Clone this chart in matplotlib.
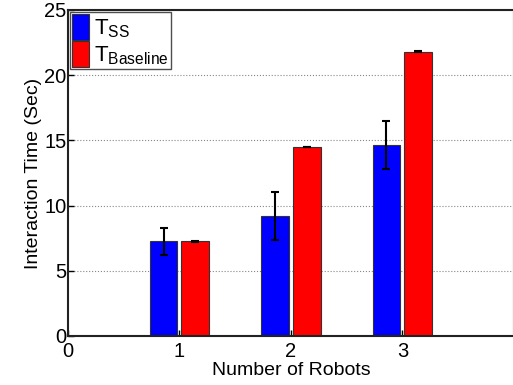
import numpy as np
import matplotlib
matplotlib.use('Agg')
import matplotlib.pyplot as plt

plt.rcParams['font.family'] = ['Liberation Sans', 'DejaVu Sans']
plt.rcParams['mathtext.fontset'] = 'custom'
plt.rcParams['mathtext.rm'] = 'Liberation Sans'
plt.rcParams['mathtext.it'] = 'Liberation Sans'

# data
robots = [1, 2, 3]
t_ss = [7.25, 9.2, 14.65]
t_ss_err = [1.05, 1.85, 1.85]
t_base = [7.25, 14.5, 21.8]
t_base_err = [0.03, 0.03, 0.03]

fig = plt.figure(figsize=(5.13, 3.85), dpi=100)
ax = fig.add_axes([0.1326, 0.1273, 0.869, 0.8468])

x = np.array(robots)
w = 0.25
off = 0.143
ax.bar(x - off, t_ss, w, color='#0000ff', edgecolor='#333333', linewidth=0.8,
       label=r'T$_{\mathrm{SS}}$', zorder=2)
ax.bar(x + off, t_base, w, color='#ff0000', edgecolor='#333333', linewidth=0.8,
       label=r'T$_{\mathrm{Baseline}}$', zorder=2)
ax.errorbar(x - off, t_ss, yerr=t_ss_err, fmt='none', ecolor='black',
            elinewidth=1.5, capsize=3, capthick=1.5, zorder=3)
ax.errorbar(x + off, t_base, yerr=t_base_err, fmt='none', ecolor='black',
            elinewidth=1.5, capsize=3, capthick=1.5, zorder=3)

ax.set_xlim(0, 4)
ax.set_ylim(0, 25)
ax.set_xticks([0, 1, 2, 3])
ax.set_yticks([0, 5, 10, 15, 20, 25])
ax.yaxis.grid(True, linestyle=':', color='#888888', linewidth=0.8, zorder=0)
ax.set_axisbelow(True)
ax.tick_params(direction='in', labelsize=14.5, length=4, width=1, top=False, right=False)
ax.tick_params(axis='x', pad=4)
ax.tick_params(axis='y', pad=1)
for s in ax.spines.values():
    s.set_linewidth(1.5)
    s.set_color('#222222')

ax.set_xlabel('Number of Robots', fontsize=14, labelpad=1)
ax.set_ylabel('Interaction Time (Sec)', fontsize=14, labelpad=2)

leg = ax.legend(loc='upper left', fontsize=16, frameon=True, fancybox=False,
                edgecolor='#222222', borderaxespad=0.1, handlelength=0.75,
                handleheight=1.4, handletextpad=0.2, borderpad=0.1,
                labelspacing=0.05)
leg.get_frame().set_linewidth(1.0)

fig.savefig('out.png', dpi=100)
